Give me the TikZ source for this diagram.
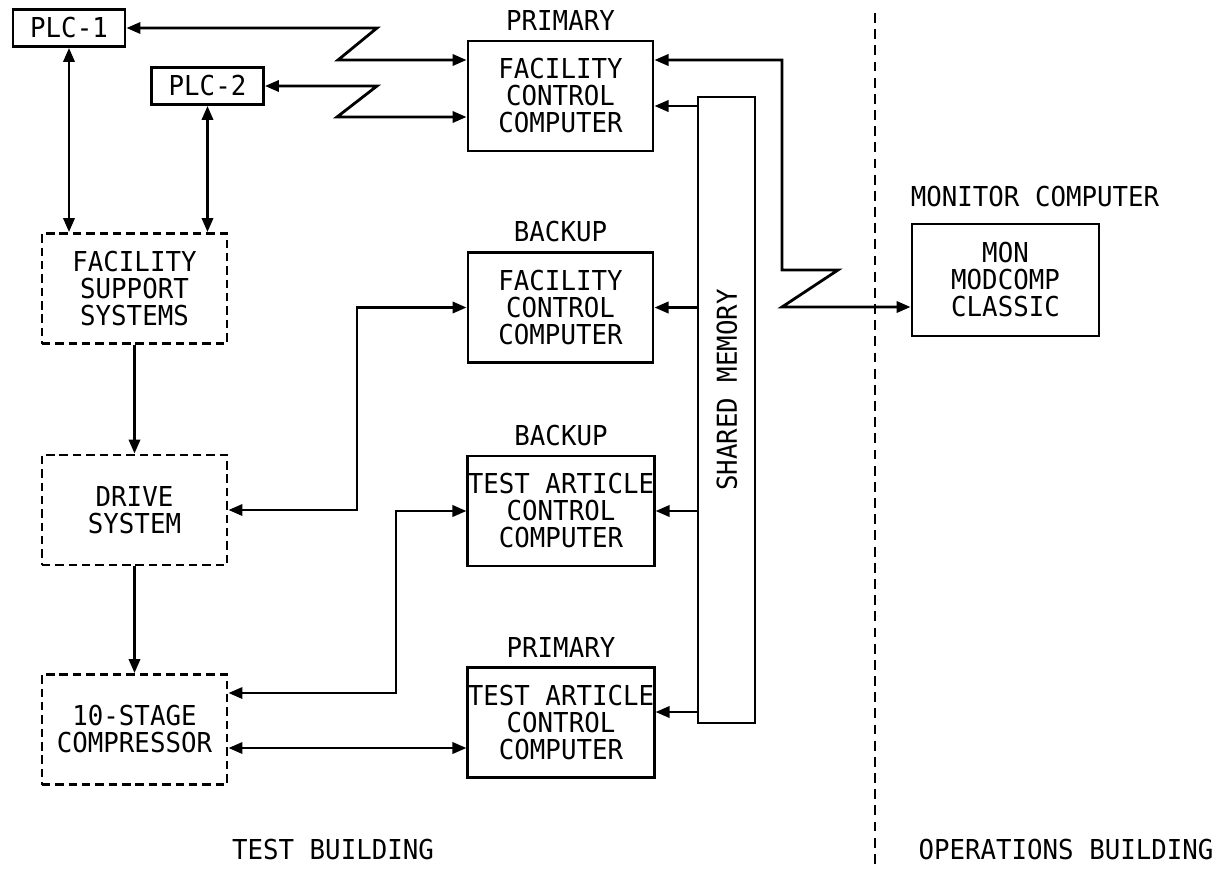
\documentclass[tikz,border=0pt]{standalone}
\usepackage{fontspec}
\newfontfamily\plotfont[FakeStretch=0.94]{DejaVu Sans Mono}
\usetikzlibrary{arrows.meta,positioning}

\begin{document}
\begin{tikzpicture}[
    x=0.025cm, y=-0.025cm,
    >={Triangle[length=10pt,width=8pt]},
    lbl/.style={font=\plotfont\fontsize{19.5}{19.2}\selectfont, align=center, inner sep=0pt},
    box/.style={lbl, draw, line width=2pt, minimum width=4.625cm, minimum height=2.75cm},
    dbox/.style={box, dash pattern=on 6pt off 3.5pt},
    plcbox/.style={box, minimum width=2.8cm, minimum height=0.925cm},
    smbox/.style={box, minimum width=1.425cm, minimum height=15.65cm},
    link/.style={line width=2pt, ->},
    both/.style={line width=2pt, <->},
    divider/.style={line width=2pt, dash pattern=on 7pt off 4.5pt}
]
\useasboundingbox (0,0) rectangle (1220,868);

% PLCs
\node[plcbox] (plc1) at (69,28) {PLC-1};
\node[plcbox] (plc2) at (207.5,86) {PLC-2};

% Facility side (dashed)
\node[dbox] (fss) at (134.5,288.5) {FACILITY\\SUPPORT\\SYSTEMS};
\node[dbox] (drv) at (134.5,510) {DRIVE\\SYSTEM};
\node[dbox] (cmp) at (134.5,729.5) {10-STAGE\\COMPRESSOR};

% Control computers
\node[box] (fccp) at (560.5,96) {FACILITY\\CONTROL\\COMPUTER};
\node[box] (fccb) at (560.5,307.5) {FACILITY\\CONTROL\\COMPUTER};
\node[box] (tacb) at (561,511) {TEST ARTICLE\\CONTROL\\COMPUTER};
\node[box] (tacp) at (561,722.5) {TEST ARTICLE\\CONTROL\\COMPUTER};
\node[lbl, above=6pt of fccp] (fccptag) {PRIMARY};
\node[lbl, above=6pt of fccb] (fccbtag) {BACKUP};
\node[lbl, above=6pt of tacb] (tacbtag) {BACKUP};
\node[lbl, above=6pt of tacp] (tacptag) {PRIMARY};

% Shared memory
\node[smbox] (sm) at (726.5,410) {};
\node[lbl, rotate=90] (smtag) at (727,390) {SHARED MEMORY};

% Monitor computer
\node[box, minimum width=4.675cm, minimum height=2.8cm] (mon) at (1005.5,280) {MON\\MODCOMP\\CLASSIC};
\node[lbl, anchor=south west] (montag) at ([yshift=11pt]mon.north west) {MONITOR COMPUTER};

% Bend points
\coordinate (za1) at (377,28);
\coordinate (za2) at (338,60);
\coordinate (zb1) at (377,86);
\coordinate (zb2) at (337,117);
\coordinate (fd) at (357,0);
\coordinate (cb) at (396,0);
\coordinate (cu) at (0,693);
\coordinate (cl) at (0,748);
\coordinate (mp) at (0,106);
\coordinate (mt) at (0,712);
\coordinate (mz1) at (782,60);
\coordinate (mz2) at (782,270);
\coordinate (mz3) at (838,270);
\coordinate (mz4) at (782,307);

% PLC links
\draw[both] (plc1.east) -- (za1) -- (za2) -- (za2 -| fccp.west);
\draw[both] (plc2.east) -- (zb1) -- (zb2) -- (zb2 -| fccp.west);
\draw[both] (plc1.south) -- (plc1.south |- fss.north);
\draw[both] (plc2.south) -- (plc2.south |- fss.north);

% Facility chain
\draw[link] (fss) -- (drv);
\draw[link] (drv) -- (cmp);
\draw[both] (fccb.west) -- (fccb.west -| fd) -- (fd |- drv.east) -- (drv.east);
\draw[both] (tacb.west) -- (tacb.west -| cb) -- (cb |- cu) -- (cu -| cmp.east);
\draw[both] (cl -| cmp.east) -- (cl -| tacp.west);

% Shared memory links
\draw[link] (mp -| sm.west) -- (mp -| fccp.east);
\draw[link] (sm.west |- fccb.east) -- (fccb.east);
\draw[link] (sm.west |- tacb.east) -- (tacb.east);
\draw[link] (mt -| sm.west) -- (mt -| tacp.east);

% Link to monitor
\draw[both] (mz1 -| fccp.east) -- (mz1) -- (mz2) -- (mz3) -- (mz4) -- (mz4 -| mon.west);

% Buildings
\coordinate (dtop) at (875,13);
\coordinate (dbot) at (875,868);
\draw[divider] (dtop) -- (dbot);
\node[lbl] (testbldg) at (333,850) {TEST BUILDING};
\node[lbl] (opsbldg) at (1066,850) {OPERATIONS BUILDING};
\end{tikzpicture}
\end{document}
